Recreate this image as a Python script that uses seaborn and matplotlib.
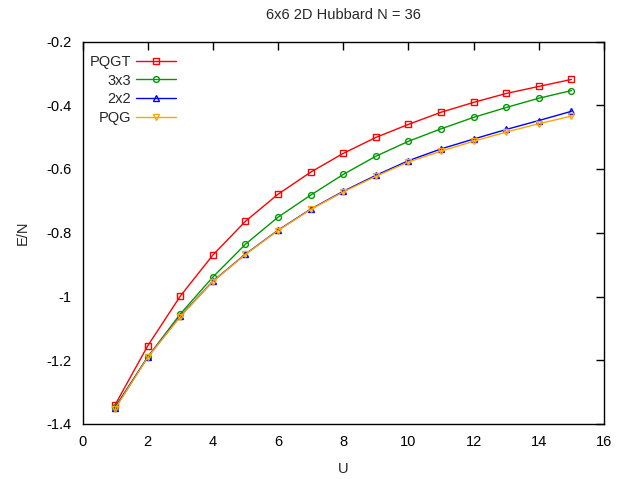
import matplotlib
matplotlib.use("Agg")
import matplotlib.pyplot as plt
import seaborn as sns
import pandas as pd

U = [1, 2, 3, 4, 5, 6, 7, 8, 9, 10, 11, 12, 13, 14, 15]

pqgt = [-1.340, -1.155, -0.999, -0.870, -0.764, -0.679, -0.610, -0.551,
        -0.501, -0.460, -0.422, -0.391, -0.363, -0.341, -0.319]
c3x3 = [-1.347, -1.190, -1.055, -0.939, -0.836, -0.751, -0.682, -0.617,
        -0.560, -0.513, -0.474, -0.438, -0.407, -0.378, -0.354]
c2x2 = [-1.350, -1.190, -1.062, -0.952, -0.867, -0.792, -0.726, -0.670,
        -0.620, -0.574, -0.537, -0.506, -0.476, -0.448, -0.419]
pqg = [-1.352, -1.191, -1.063, -0.953, -0.868, -0.793, -0.727, -0.672,
       -0.623, -0.578, -0.544, -0.513, -0.484, -0.458, -0.434]

series = ["PQGT", "3x3", "2x2", "PQG"]
values = [pqgt, c3x3, c2x2, pqg]
colors = ["#ff0000", "#009900", "#0000ff", "#ffa500"]
markers = ["s", "o", "^", "v"]

df = pd.DataFrame({
    "U": U * len(series),
    "E/N": [v for vals in values for v in vals],
    "method": [s for s in series for _ in U],
})

sns.set_style("white")
plt.rcParams["font.family"] = ["Liberation Sans", "DejaVu Sans"]
plt.rcParams["font.size"] = 10

fig = plt.figure(figsize=(6.27, 4.79), dpi=100)
ax = fig.add_axes([82.5 / 627, 1 - 424 / 479, (604 - 82.5) / 627, (424 - 41.5) / 479])

for name, col, mk in zip(series, colors, markers):
    sns.lineplot(data=df[df["method"] == name], x="U", y="E/N", ax=ax,
                 color=col, marker=mk, markersize=4.2, markerfacecolor="none",
                 markeredgecolor=col, markeredgewidth=1.0, linewidth=1.0,
                 label=name)

ax.set_xlim(0, 16)
ax.set_ylim(-1.4, -0.2)
ax.set_xticks(range(0, 17, 2))
ax.set_yticks([-1.4, -1.2, -1.0, -0.8, -0.6, -0.4, -0.2])
ax.set_yticklabels(["-1.4", "-1.2", "-1", "-0.8", "-0.6", "-0.4", "-0.2"])
ax.tick_params(direction="in", length=6, width=1, top=True, right=True,
               labelsize=10.5, pad=8, colors="black")
for sp in ax.spines.values():
    sp.set_color("black")
    sp.set_linewidth(1.0)

ax.set_xlabel("U", fontsize=10.5, labelpad=9)
ax.set_ylabel("E/N", fontsize=10.5, labelpad=12)
ax.set_title("6x6 2D Hubbard N = 36", fontsize=10.5, pad=16)

# handles on the right, labels right-aligned against them
ax.legend(loc="upper left", bbox_to_anchor=(-0.006, 0.992), frameon=False,
          markerfirst=False, fontsize=10.5, handlelength=2.75,
          handletextpad=0.35, labelspacing=0.33, borderaxespad=0.3)

fig.savefig("out.png", dpi=100)
